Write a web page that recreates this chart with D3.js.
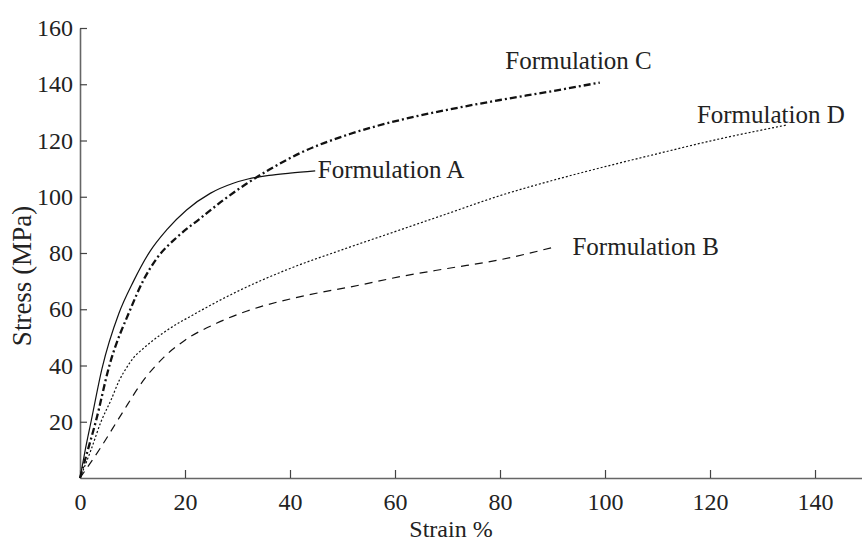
<!DOCTYPE html>
<html>
<head>
<meta charset="utf-8">
<script src="https://cdn.jsdelivr.net/npm/d3@7"></script>
<style>
  body { margin: 0; background: #fff; }
  svg text { font-family: "Liberation Serif", "Times New Roman", serif; fill: #222; }
</style>
</head>
<body>
<div id="chart"></div>
<script>
// Stress-strain curves for four formulations

const strainA = [0, 1, 2.1, 4.2, 7.4, 10.2, 13.3, 16.5, 20.3, 24.8, 29.2, 32, 36, 40, 44.8];
const stressA = [0, 10, 20, 39, 58.5, 70, 80.5, 88.2, 95.3, 101.2, 104.8, 106.3, 107.6, 108.4, 109.2];

const strainB = [0, 4, 8, 12, 16, 20, 26, 31.7, 42, 53.3, 61, 70, 80, 90.5];
const stressB = [0, 11, 23, 34.5, 43, 49, 55, 59.3, 64.5, 68.6, 71.6, 74.5, 77.6, 82.2];

const strainC = [0, 1.5, 3, 5.6, 9.6, 12.1, 14.6, 18.4, 22.9, 27.3, 31.7, 36, 42, 51.4, 61, 70.5, 80, 89.5, 99];
const stressC = [0, 10, 20, 40, 60, 70.4, 78, 85.5, 92.3, 98.8, 104.6, 109.6, 115.6, 122.3, 127.3, 131.1, 134.4, 137.4, 140.6];

const strainD = [0, 2.1, 4, 5.9, 7.5, 8.8, 10.3, 11.9, 15.7, 22.5, 30.5, 40, 50, 60, 70, 80, 90, 100, 110, 120, 134.6];
const stressD = [0, 10, 20, 27.7, 34.8, 39, 43, 45.8, 51.4, 59, 66.8, 74.5, 81.2, 87.6, 94, 100.4, 105.8, 110.7, 115.3, 119.8, 125.5];

const xTicks = [0, 20, 40, 60, 80, 100, 120, 140];
const yTicks = [20, 40, 60, 80, 100, 120, 140, 160];

const labelNames = ['Formulation A', 'Formulation B', 'Formulation C', 'Formulation D'];

const W = 862, H = 541;
const svg = d3.select('#chart').append('svg')
  .attr('width', W)
  .attr('height', H);

const x = d3.scaleLinear().domain([0, 148.95]).range([80, 862]);
const y = d3.scaleLinear().domain([0, 160]).range([478, 28]);

// axes, ticks point inward
const xAxis = svg.append('g')
  .attr('transform', 'translate(0,478)')
  .call(d3.axisBottom(x).tickValues(xTicks).tickSizeInner(-8).tickSizeOuter(0).tickPadding(15));
const yAxis = svg.append('g')
  .attr('transform', 'translate(80,0)')
  .call(d3.axisLeft(y).tickValues(yTicks).tickSizeInner(-7).tickSizeOuter(0).tickPadding(7));

[xAxis, yAxis].forEach(g => {
  g.select('.domain').attr('stroke', '#666').attr('stroke-width', 1.6);
  g.selectAll('.tick line').attr('stroke', '#444').attr('stroke-width', 1.2);
  g.selectAll('.tick text')
    .style('font-family', '"Liberation Serif", serif')
    .style('font-size', '24px')
    .attr('fill', '#222');
});

// axis titles
svg.append('text')
  .attr('x', 451)
  .attr('y', 537)
  .attr('text-anchor', 'middle')
  .style('font-size', '24px')
  .text('Strain %');

svg.append('text')
  .attr('transform', 'translate(31,276) rotate(-90)')
  .attr('text-anchor', 'middle')
  .style('font-size', '27px')
  .text('Stress (MPa)');

const line = d3.line()
  .x(d => x(d[0]))
  .y(d => y(d[1]))
  .curve(d3.curveMonotoneX);

const series = [
  { s: strainA, v: stressA, dash: null, w: 1.2 },
  { s: strainB, v: stressB, dash: '8,6', w: 1.2 },
  { s: strainC, v: stressC, dash: '7,3,2,3', w: 2.3 },
  { s: strainD, v: stressD, dash: '2,2', w: 1.2 }
];

svg.selectAll('.curve')
  .data(series)
  .enter()
  .append('path')
  .attr('class', 'curve')
  .attr('d', d => line(d3.zip(d.s, d.v)))
  .attr('fill', 'none')
  .attr('stroke', '#111')
  .attr('stroke-width', d => d.w)
  .attr('stroke-dasharray', d => d.dash);

// curve labels, anchored at given strain/stress
const labelStrain = [45.3, 93.8, 81, 117.5];
const labelStress = [106.7, 79.3, 145.4, 126.3];

svg.selectAll('.label')
  .data(labelNames)
  .enter()
  .append('text')
  .attr('class', 'label')
  .attr('x', (d, i) => x(labelStrain[i]))
  .attr('y', (d, i) => y(labelStress[i]))
  .style('font-size', '25px')
  .text(d => d);
</script>
</body>
</html>
